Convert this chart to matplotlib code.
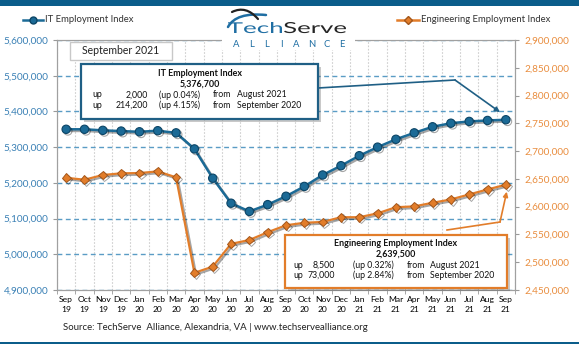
import numpy as np
import matplotlib
matplotlib.use('Agg')
from matplotlib import pyplot as plt
from matplotlib.lines import Line2D
from matplotlib.patches import FancyBboxPatch, Rectangle, PathPatch
from matplotlib.path import Path
from matplotlib.textpath import TextPath
from matplotlib.font_manager import FontProperties
import matplotlib.patheffects as pe

plt.rcParams['font.family'] = ['Lato', 'DejaVu Sans']

# monthly index values, Sep 2019 .. Sep 2021
months = ['Sep', 'Oct', 'Nov', 'Dec', 'Jan', 'Feb', 'Mar', 'Apr', 'May', 'Jun', 'Jul', 'Aug',
          'Sep', 'Oct', 'Nov', 'Dec', 'Jan', 'Feb', 'Mar', 'Apr', 'May', 'Jun', 'Jul', 'Aug', 'Sep']
years = ['19', '19', '19', '19', '20', '20', '20', '20', '20', '20', '20', '20',
         '20', '20', '20', '20', '21', '21', '21', '21', '21', '21', '21', '21', '21']
it_index = [5350000, 5350000, 5347000, 5345000, 5343000, 5346000, 5340000, 5295000,
            5213000, 5143000, 5120000, 5139000, 5162500, 5190000, 5222000, 5248000,
            5276000, 5300000, 5322000, 5340000, 5357000, 5367000, 5372000, 5374700, 5376700]
eng_index = [2652000, 2648500, 2657000, 2660000, 2660500, 2663500, 2652800, 2481000,
             2492000, 2533000, 2540000, 2554000, 2566500, 2571000, 2572500, 2581000,
             2581000, 2588000, 2599000, 2600500, 2607000, 2613000, 2622000, 2631000, 2639500]
it_ticks = [4900000, 5000000, 5100000, 5200000, 5300000, 5400000, 5500000, 5600000]
eng_ticks = [2450000, 2500000, 2550000, 2600000, 2650000, 2700000, 2750000, 2800000, 2850000, 2900000]

W, H = 579, 347
IT_C = '#1b6a96'
IT_E = '#0c4566'
EN_C = '#e27d2a'
EN_E = '#a4561a'
BLUE_TXT = '#3a80b5'
ORANGE_TXT = '#e98d3e'
LOGO_BLUE = '#1f6ea3'


def fx(x):
    return x / W


def fy(y):
    return 1 - y / H


fig = plt.figure(figsize=(W / 100, H / 100), dpi=100)
ax = fig.add_axes([fx(57), fy(290), (515 - 57) / W, 250 / H])
ax2 = ax.twinx()

x = np.arange(len(months))
shadow = [pe.SimpleLineShadow(offset=(1.2, -1.2), alpha=0.35), pe.Normal()]
ax.plot(x, it_index, '-o', color=IT_C, lw=1.8, ms=6, mfc=IT_C, mec=IT_E, mew=0.8,
        path_effects=shadow, zorder=5)
ax2.plot(x, eng_index, '-D', color=EN_C, lw=1.6, ms=4.5, mfc=EN_C, mec=EN_E, mew=0.7,
         path_effects=shadow, zorder=5)

ax.set_xlim(-0.5, len(months) - 0.5)
ax.set_ylim(4900000, 5600000)
ax2.set_ylim(2450000, 2900000)
ax.set_yticks(it_ticks)
ax.set_yticklabels([f'{v:,}' for v in it_ticks], color=BLUE_TXT, fontsize=7.2)
ax2.set_yticks(eng_ticks)
ax2.set_yticklabels([f'{v:,}' for v in eng_ticks], color=ORANGE_TXT, fontsize=7.2)

ax.set_xticks(x)
ax.set_xticklabels([m + '\n' + y for m, y in zip(months, years)], fontsize=6.1, linespacing=1.5)
ax.set_xticks(np.arange(-0.5, len(months)), minor=True)
ax.tick_params(axis='x', which='major', length=0, pad=4)
ax.tick_params(axis='x', which='minor', length=3, color='#999999')
ax.tick_params(axis='y', length=3, color='#999999', pad=3)
ax2.tick_params(axis='y', length=3, color='#999999', pad=4)

ax.grid(axis='y', color='#5a9cc5', ls=(0, (3.5, 2.5)), lw=1)
ax.grid(axis='x', which='minor', color='#cfcfcf', ls=(0, (1.5, 1.5)), lw=0.8)
ax.set_axisbelow(True)
for a in (ax, ax2):
    for s in a.spines.values():
        s.set_color('#a0a0a0')
        s.set_linewidth(0.8)

# frame bars
fig.add_artist(Rectangle((0, fy(6)), 1, 6 / H, transform=fig.transFigure,
                         color='#0b5d8a', lw=0))
fig.add_artist(Rectangle((0, fy(344)), 1, 2 / H, transform=fig.transFigure,
                         color='#0b5d8a', lw=0))

# legends
for x0, x1, y0, mk, col, ec, ms, label in [
        (23, 43, 20, 'o', IT_C, IT_E, 5, 'IT Employment Index'),
        (397, 419, 20, 'D', EN_C, EN_E, 4, 'Engineering Employment Index')]:
    fig.add_artist(Line2D([fx(x0), fx((x0 + x1) / 2), fx(x1)], [fy(y0)] * 3,
                          transform=fig.transFigure, color=col, lw=1.8, marker=mk,
                          markevery=[1], ms=ms, mfc=col, mec=ec))
    fig.text(fx(x1 + 2), fy(y0), label, fontsize=6.8, va='center', ha='left', color='#333333')


# logo
def logo_word(s, x0, x1, ytop, ybase, color):
    tp = TextPath((0, 0), s, size=10, prop=FontProperties(family='Lato'))
    ext = tp.get_extents()
    v = tp.vertices
    px = x0 + (v[:, 0] - ext.x0) * (x1 - x0) / ext.width
    py = ybase - v[:, 1] * (ybase - ytop) / ext.y1
    path = Path(np.column_stack([fx(px), fy(py)]), tp.codes)
    fig.add_artist(PathPatch(path, transform=fig.transFigure, fc=color, lw=0, zorder=9))


fig.add_artist(Rectangle((fx(222), fy(50)), 133 / W, 44 / H, transform=fig.transFigure,
                         color='white', lw=0, zorder=8))
logo_word('Tech', 228, 282, 22, 33, LOGO_BLUE)
logo_word('Serve', 284, 346, 22, 33, '#262626')
for i, ch in enumerate('ALLIANCE'):
    fig.text(fx(236 + 15.1 * i), fy(44.5), ch, fontsize=6.8, color=LOGO_BLUE,
             va='center', ha='center', zorder=9)
for pts, col, lw in [([(228, 27), (236, 12), (266, 15)], LOGO_BLUE, 1.8),
                     ([(232, 12), (246, 5), (258, 19)], '#222222', 1.6)]:
    swoosh = Path([(fx(a), fy(b)) for a, b in pts], [Path.MOVETO, Path.CURVE3, Path.CURVE3])
    fig.add_artist(PathPatch(swoosh, transform=fig.transFigure, fc='none', ec=col,
                             lw=lw, capstyle='round', zorder=9))

# month label
fig.add_artist(FancyBboxPatch((fx(70), fy(60)), 102 / W, 18 / H, boxstyle='square,pad=0',
                              transform=fig.transFigure, fc='white', ec='#c8c8c8', lw=1,
                              zorder=6))
fig.text(fx(121), fy(51), 'September 2021', fontsize=7.6, ha='center', va='center',
         color='#222222', zorder=7)


def stat_box(x0, y0, x1, y1, color, title, series, cols, rows_y):
    box = FancyBboxPatch((fx(x0), fy(y1)), (x1 - x0) / W, (y1 - y0) / H,
                         boxstyle='square,pad=0', transform=fig.transFigure,
                         fc='white', ec=color, lw=1.6, zorder=6,
                         path_effects=[pe.SimplePatchShadow(offset=(2, -2), alpha=0.3),
                                       pe.Normal()])
    fig.add_artist(box)
    cx = (x0 + x1) / 2
    fig.text(fx(cx), fy(rows_y[0]), title, fontsize=6.4, weight='bold', ha='center',
             va='center', color='#111111', zorder=7)
    fig.text(fx(cx), fy(rows_y[1]), f'{series[-1]:,}', fontsize=6.4, weight='bold',
             ha='center', va='center', color='#111111', zorder=7)
    rows = [(series[-1] - series[-2], series[-2], 'August 2021'),
            (series[-1] - series[-13], series[-13], 'September 2020')]
    for (diff, base, since), yr in zip(rows, rows_y[2:]):
        yy = fy(yr)
        kw = dict(fontsize=6.3, va='center', color='#111111', zorder=7)
        fig.text(fx(cols[0]), yy, 'up', ha='left', **kw)
        fig.text(fx(cols[1]), yy, f'{diff:,}', ha='right', **kw)
        fig.text(fx(cols[2]), yy, f'(up {diff / base * 100:.2f}%)', ha='left', **kw)
        fig.text(fx(cols[3]), yy, 'from', ha='left', **kw)
        fig.text(fx(cols[4]), yy, since, ha='left', **kw)


stat_box(81, 64, 318, 119, '#1f5f85', 'IT Employment Index', it_index,
         [92, 148, 159, 213, 237], [73, 84, 95, 105])
stat_box(285, 235, 507, 288, EN_C, 'Engineering Employment Index', eng_index,
         [293, 335, 353, 407, 430], [244, 254, 265, 275])

# callout lines to the latest points
fig.add_artist(Line2D([fx(318), fx(455)], [fy(88), fy(80)], transform=fig.transFigure,
                      color='#1f5f85', lw=1.2, zorder=6))
ax2.annotate('', xy=(23.68, 5398000), xycoords=ax.transData,
             xytext=(fx(455), fy(80)), textcoords='figure fraction',
             arrowprops=dict(arrowstyle='-|>', color='#1f5f85', lw=1.2,
                             mutation_scale=7, shrinkA=0, shrinkB=0), zorder=6)
fig.add_artist(Line2D([fx(447), fx(500)], [fy(230), fy(222)], transform=fig.transFigure,
                      color=EN_C, lw=1.2, zorder=6))
ax2.annotate('', xy=(24.05, 2627000),
             xytext=(fx(500), fy(222)), textcoords='figure fraction',
             arrowprops=dict(arrowstyle='-|>', color=EN_C, lw=1.2,
                             mutation_scale=7, shrinkA=0, shrinkB=0), zorder=6)

fig.text(fx(63), fy(328), 'Source: TechServe  Alliance, Alexandria, VA | www.techservealliance.org',
         fontsize=6.9, ha='left', va='center', color='#222222')

plt.savefig('out.png', dpi=100)
